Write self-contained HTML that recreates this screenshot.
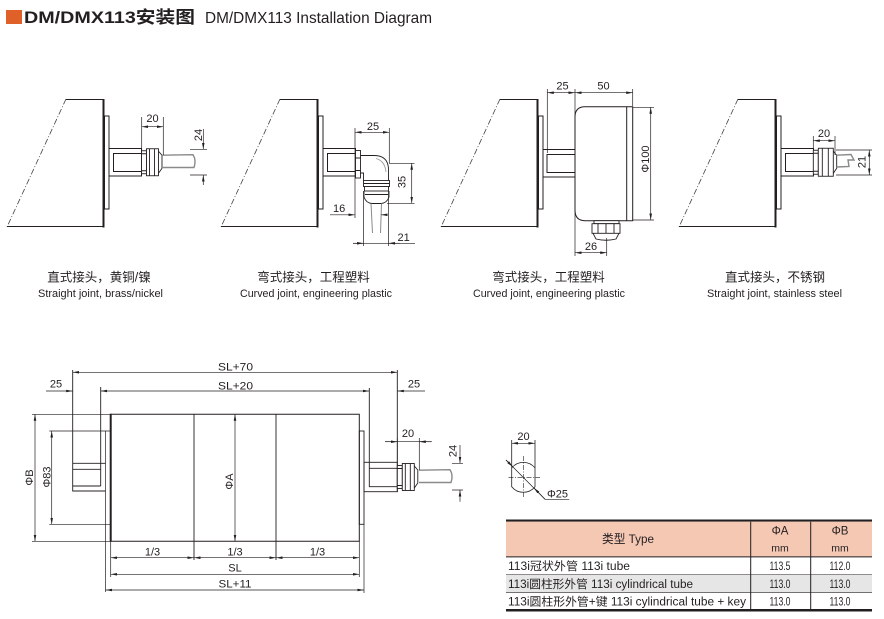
<!DOCTYPE html>
<html><head><meta charset="utf-8"><style>
html,body{margin:0;padding:0;background:#fff;}
svg{display:block;}
text{font-family:"Liberation Sans","Noto Sans CJK SC",sans-serif;fill:#231f20;}
.d{font-size:11px;}
.m{text-anchor:middle;}
</style></head><body>
<svg width="884" height="619" viewBox="0 0 884 619" xmlns="http://www.w3.org/2000/svg">
<defs>
<marker id="a" viewBox="0 0 10 4" refX="10" refY="2" markerWidth="6.5" markerHeight="2.6" markerUnits="userSpaceOnUse" orient="auto-start-reverse"><path d="M0,0L10,2L0,4z" fill="#231f20"/></marker>
<g id="base">
 <line x1="66" y1="99" x2="7" y2="227" stroke="#444" stroke-width="0.8" stroke-dasharray="6,2,1,2"/>
 <path d="M66,99.5H103M7,226.5H103" stroke="#231f20" stroke-width="1" fill="none"/>
 <line x1="103.5" y1="99" x2="103.5" y2="227.5" stroke="#231f20" stroke-width="2"/>
 <rect x="104.5" y="116" width="4.5" height="93" fill="#fff" stroke="#231f20" stroke-width="1"/>
</g>
<g id="shaft" fill="none" stroke="#231f20" stroke-width="1">
 <rect x="109" y="148.5" width="32.5" height="27.5"/>
 <rect x="113.5" y="153.5" width="28" height="18"/>
</g>
<g id="conn" fill="#fff" stroke="#231f20" stroke-width="0.9">
 <rect x="0" y="-11.5" width="5" height="23"/>
 <path d="M0,-8.5H5M0,8.5H5" fill="none"/>
 <rect x="5" y="-13.5" width="12" height="27"/>
 <path d="M8,-13.5V13.5M13,-13.5V13.5" fill="none"/>
 <path d="M17,-11L20.5,-7L20.5,6L17,11" fill="none"/>
</g>
</defs>

<!-- Title -->
<rect x="6" y="10" width="16" height="14" fill="#e0602a"/>
<text x="24" y="23" font-size="17" font-weight="bold" textLength="171" lengthAdjust="spacingAndGlyphs">DM/DMX113安装图</text>
<text x="205" y="23" font-size="16" textLength="227" lengthAdjust="spacingAndGlyphs">DM/DMX113 Installation Diagram</text>

<g stroke="#231f20" fill="none" stroke-width="0.7">
<!-- ===== Diagram 1 ===== -->
<use href="#base"/>
<use href="#shaft"/>
<use href="#conn" transform="translate(141.5,162.25)"/>
<path d="M162,155.2L193,154.7Q196.5,160 194,167.5L162,167.5" stroke="#8a8a8a" stroke-width="1.4"/>
<path d="M141.7,117V150M163.3,117V155"/>
<line x1="141.7" y1="126.7" x2="163.3" y2="126.7" marker-start="url(#a)" marker-end="url(#a)"/>
<path d="M190,149.3H207M190,175H207"/>
<line x1="203.3" y1="129" x2="203.3" y2="149.3" marker-end="url(#a)"/>
<line x1="203.3" y1="185" x2="203.3" y2="175" marker-end="url(#a)"/>

<!-- ===== Diagram 2 ===== -->
<use href="#base" x="214"/>
<use href="#shaft" x="214"/>
<g stroke-width="0.9">
<rect x="355.5" y="150.5" width="5" height="27.5" fill="#fff"/>
<path d="M355.5,158H360.5M355.5,170.5H360.5"/>
<path d="M360.5,155.5H374Q388.5,155.5 388.5,170V180.5"/>
<path d="M360.5,173H363.5V180.5"/>
<path d="M376,158.5Q385,161 386,172" stroke="#999"/>
<rect x="363.5" y="180.5" width="26" height="6" fill="#fff"/>
<path d="M363.5,183.5H389.5"/>
<rect x="364.5" y="186.5" width="24" height="4.5" fill="#fff"/>
<path d="M364,191V197Q366,203 372,203.5H381Q387,203 389,197V191"/>
<path d="M365,194.5H388"/>
</g>
<path d="M371,203.5L372.5,233M381.5,203.5L380.5,233" stroke="#8a8a8a" stroke-width="1"/>
<path d="M355,128V218M389.3,128V163"/>
<line x1="355" y1="132.3" x2="389.3" y2="132.3" marker-start="url(#a)" marker-end="url(#a)"/>
<path d="M389,163.3H414.5M387,203.3H414.5"/>
<line x1="411.7" y1="163.3" x2="411.7" y2="203.3" marker-start="url(#a)" marker-end="url(#a)"/>
<line x1="330" y1="214.8" x2="355" y2="214.8" marker-end="url(#a)"/>
<line x1="387" y1="214.8" x2="381" y2="214.8" marker-end="url(#a)"/>
<path d="M363.5,191V246M388.5,191V246"/>
<line x1="415" y1="243.3" x2="353" y2="243.3"/>
<line x1="353" y1="243.3" x2="363.5" y2="243.3" marker-end="url(#a)"/>
<line x1="400" y1="243.3" x2="388.5" y2="243.3" marker-end="url(#a)"/>

<!-- ===== Diagram 3 ===== -->
<use href="#base" x="434"/>
<rect x="543" y="149.5" width="32" height="27.5" stroke-width="1"/>
<rect x="547" y="154.5" width="28" height="18" stroke-width="1"/>
<path d="M632.7,106.7H585Q575,106.7 575,117V210Q575,220.7 585,220.7H632.7Z" fill="#fff" stroke-width="1"/>
<path d="M626.7,106.7V220.7" stroke-width="1"/>
<g stroke-width="0.9">
<rect x="594" y="220.7" width="25" height="3" fill="#fff"/>
<rect x="592" y="223.7" width="28" height="9.6" fill="#fff"/>
<path d="M598,223.7V233.3M606,223.7V233.3M614,223.7V233.3"/>
<path d="M593,233.3L596,239Q606,241.5 616,239L619,233.3"/>
</g>
<path d="M547.3,89V153M575,89V256M632.7,89V106"/>
<line x1="547.3" y1="92.7" x2="575" y2="92.7" marker-start="url(#a)" marker-end="url(#a)"/>
<line x1="575" y1="92.7" x2="632.7" y2="92.7" marker-start="url(#a)" marker-end="url(#a)"/>
<path d="M633,107.3H654M633,220H654"/>
<line x1="650.7" y1="107.3" x2="650.7" y2="220" marker-start="url(#a)" marker-end="url(#a)"/>
<path d="M606.7,238V256"/>
<line x1="575" y1="252.7" x2="606.7" y2="252.7" marker-start="url(#a)" marker-end="url(#a)"/>

<!-- ===== Diagram 4 ===== -->
<use href="#base" x="672"/>
<use href="#shaft" x="672"/>
<g transform="translate(813.3,162.25)" fill="#fff" stroke="#231f20" stroke-width="0.9">
 <rect x="0" y="-12" width="5" height="24"/>
 <path d="M0,-9H5M0,9H5" fill="none"/>
 <rect x="5" y="-14" width="15" height="28"/>
 <path d="M9,-14V14M15,-14V14" fill="none"/>
 <path d="M20,-11L23.4,-7L23.4,6L20,11" fill="none"/>
</g>
<path d="M836.7,155.2L851,154.5L854,160L848,160L849,166.5L836.7,167" stroke="#8a8a8a" stroke-width="1.4"/>
<path d="M813.3,136V149M835,136V155"/>
<line x1="813.3" y1="140.7" x2="835" y2="140.7" marker-start="url(#a)" marker-end="url(#a)"/>
<path d="M836,150H872M836,175H872"/>
<line x1="869.3" y1="150" x2="869.3" y2="175" marker-start="url(#a)" marker-end="url(#a)"/>

<!-- ===== Bottom assembly ===== -->
<!-- tube -->
<path d="M110.7,414.3H359.3V541.3H110.7" stroke-width="1"/>
<line x1="110.7" y1="413.8" x2="110.7" y2="541.8" stroke-width="2"/>
<path d="M194,414.3V560M276,414.3V560" stroke-width="0.9"/>
<rect x="359.3" y="431" width="4.7" height="93.3" stroke-width="0.9"/>
<!-- left flange / shaft -->
<path d="M105.5,431V592"/>
<path d="M49.3,431H110.7M49.3,524.3H110.7"/>
<path d="M72.7,370V491H105.5M72.7,463.3H105.5M72.7,469.3H100.7M72.7,486H100.7M100.7,387V486" stroke-width="0.9"/>
<!-- right shaft -->
<rect x="364" y="462.3" width="33.3" height="29.4" stroke-width="0.9"/>
<path d="M369.3,388V486.7H397.3M369.3,468.3H397.3M397.3,370V491.7" stroke-width="0.9"/>
<use href="#conn" transform="translate(397.3,477)"/>
<path d="M419,470.2L450,469.7Q453.5,475 451,482.5L419,482.5" stroke="#8a8a8a" stroke-width="1.4"/>
<!-- ext lines down -->
<path d="M110.7,541.3V577M359.3,541.3V577M364,524.3V593"/>
<!-- top dims -->
<line x1="72.7" y1="372.3" x2="397.3" y2="372.3" marker-start="url(#a)" marker-end="url(#a)"/>
<line x1="100.7" y1="391" x2="369.3" y2="391" marker-start="url(#a)" marker-end="url(#a)"/>
<line x1="46" y1="391" x2="72.7" y2="391" marker-end="url(#a)"/>
<line x1="425" y1="391" x2="397.3" y2="391" marker-end="url(#a)"/>
<!-- right 20 / 24 -->
<path d="M397.3,438V462M419.3,438V470"/>
<line x1="385" y1="441.7" x2="431.7" y2="441.7"/>
<line x1="385" y1="441.7" x2="397.3" y2="441.7" marker-end="url(#a)"/>
<line x1="431.7" y1="441.7" x2="419.3" y2="441.7" marker-end="url(#a)"/>
<path d="M452,463.3H463M452,490H463"/>
<line x1="460" y1="445" x2="460" y2="463.3" marker-end="url(#a)"/>
<line x1="460" y1="501.7" x2="460" y2="490" marker-end="url(#a)"/>
<!-- left dims -->
<path d="M32,414.3H110.7M32,541.3H110.7"/>
<line x1="35" y1="414.3" x2="35" y2="541.3" marker-start="url(#a)" marker-end="url(#a)"/>
<line x1="51.7" y1="431" x2="51.7" y2="524.3" marker-start="url(#a)" marker-end="url(#a)"/>
<line x1="235" y1="414.3" x2="235" y2="541.3" marker-start="url(#a)" marker-end="url(#a)"/>
<!-- bottom dims -->
<line x1="110.7" y1="557.7" x2="194" y2="557.7" marker-start="url(#a)" marker-end="url(#a)"/>
<line x1="194" y1="557.7" x2="276" y2="557.7" marker-start="url(#a)" marker-end="url(#a)"/>
<line x1="276" y1="557.7" x2="359.3" y2="557.7" marker-start="url(#a)" marker-end="url(#a)"/>
<line x1="110.7" y1="574.3" x2="359.3" y2="574.3" marker-start="url(#a)" marker-end="url(#a)"/>
<line x1="105.5" y1="590" x2="364" y2="590" marker-start="url(#a)" marker-end="url(#a)"/>

<!-- ===== Circle detail ===== -->
<path d="M511.7,440V487M535,440V487" stroke-width="0.8"/>
<path d="M511.7,467.9A15,15 0 0 1 535,467.9M511.7,486.7A15,15 0 0 0 535,486.7" stroke-width="0.8"/>
<path d="M508.5,477.3H540M523.3,456V497" stroke-width="0.6" stroke-dasharray="5,1.5,1,1.5"/>
<line x1="511.7" y1="443.3" x2="535" y2="443.3" marker-start="url(#a)" marker-end="url(#a)"/>
<path d="M506,460L545,499.3H569.3"/>
<line x1="506" y1="460" x2="512.7" y2="466.7" marker-end="url(#a)"/>
<line x1="545" y1="499.3" x2="533.9" y2="487.9" marker-end="url(#a)"/>
</g>

<!-- Dimension texts top -->
<text class="d m" x="152.5" y="122">20</text>
<text class="d m" transform="rotate(-90 202 135)" x="202" y="135">24</text>
<text class="d m" x="373" y="130">25</text>
<text class="d m" transform="rotate(-90 405.5 182)" x="405.5" y="182">35</text>
<text class="d" x="333" y="212">16</text>
<text class="d" x="397.5" y="241">21</text>
<text class="d m" x="562.5" y="89.5">25</text>
<text class="d m" x="603.5" y="89.5">50</text>
<text class="d m" transform="rotate(-90 649 159)" x="649" y="159">Φ100</text>
<text class="d m" x="591" y="250">26</text>
<text class="d m" x="824" y="137">20</text>
<text class="d m" transform="rotate(-90 865.5 162)" x="865.5" y="162">21</text>

<!-- Labels -->
<g font-size="12.5" text-anchor="middle">
<text x="99" y="281.5">直式接头，黄铜/镍</text>
<text x="313.5" y="281.5">弯式接头，工程塑料</text>
<text x="548.5" y="281.5">弯式接头，工程塑料</text>
<text x="775" y="281.5">直式接头，不锈钢</text>
</g>
<g font-size="11">
<text x="38" y="297" textLength="125" lengthAdjust="spacingAndGlyphs">Straight joint, brass/nickel</text>
<text x="240" y="297" textLength="152" lengthAdjust="spacingAndGlyphs">Curved joint, engineering plastic</text>
<text x="473" y="297" textLength="152" lengthAdjust="spacingAndGlyphs">Curved joint, engineering plastic</text>
<text x="707" y="297" textLength="135" lengthAdjust="spacingAndGlyphs">Straight joint, stainless steel</text>
</g>

<!-- Bottom dim texts -->
<text class="d m" x="235.5" y="370.5" textLength="35" lengthAdjust="spacingAndGlyphs">SL+70</text>
<text class="d m" x="235.5" y="389.5" textLength="35" lengthAdjust="spacingAndGlyphs">SL+20</text>
<text class="d m" x="56" y="387.5">25</text>
<text class="d m" x="414" y="387.5">25</text>
<text class="d m" x="408" y="437">20</text>
<text class="d m" transform="rotate(-90 456.5 451)" x="456.5" y="451">24</text>
<text class="d m" transform="rotate(-90 33 477.5)" x="33" y="477.5">ΦB</text>
<text class="d m" transform="rotate(-90 50.5 477)" x="50.5" y="477">Φ83</text>
<text class="d m" transform="rotate(-90 233 481.5)" x="233" y="481.5">ΦA</text>
<text class="d m" x="152.5" y="555.5">1/3</text>
<text class="d m" x="235" y="555.5">1/3</text>
<text class="d m" x="317.5" y="555.5">1/3</text>
<text class="d m" x="235" y="571.5">SL</text>
<text class="d m" x="235" y="587.5" textLength="33" lengthAdjust="spacingAndGlyphs">SL+11</text>
<text class="d m" x="523.5" y="440">20</text>
<text class="d" x="547" y="497.5">Φ25</text>

<!-- Table -->
<rect x="506" y="519.5" width="366" height="2.2" fill="#231f20"/>
<rect x="506" y="521.7" width="366" height="35" fill="#f5c8b4"/>
<rect x="506" y="574.8" width="366" height="17.5" fill="#e6e6e6"/>
<g stroke="#231f20" fill="none">
<path d="M506,556.9H872" stroke-width="1"/>
<path d="M506,574.5H872M506,592.4H872" stroke-width="0.6"/>
<path d="M750.7,521.7V609M810.7,521.7V609" stroke-width="1"/>
</g>
<rect x="506" y="609" width="366" height="2.5" fill="#231f20"/>
<g font-size="11.5">
<text x="628" y="543" text-anchor="middle" font-size="12" textLength="52" lengthAdjust="spacingAndGlyphs">类型 Type</text>
<text x="780" y="534.5" text-anchor="middle">ΦA</text>
<text x="780" y="551.5" text-anchor="middle" font-size="10.5">mm</text>
<text x="840" y="534.5" text-anchor="middle">ΦB</text>
<text x="840" y="551.5" text-anchor="middle" font-size="10.5">mm</text>
<text x="508" y="570" textLength="122" lengthAdjust="spacingAndGlyphs">113i冠状外管 113i tube</text>
<text x="508" y="588" textLength="185" lengthAdjust="spacingAndGlyphs">113i圆柱形外管 113i cylindrical tube</text>
<text x="508" y="605.5" textLength="238" lengthAdjust="spacingAndGlyphs">113i圆柱形外管+键 113i cylindrical tube + key</text>
<text x="780" y="570" text-anchor="middle" textLength="21" lengthAdjust="spacingAndGlyphs">113.5</text>
<text x="840" y="570" text-anchor="middle" textLength="21" lengthAdjust="spacingAndGlyphs">112.0</text>
<text x="780" y="588" text-anchor="middle" textLength="21" lengthAdjust="spacingAndGlyphs">113.0</text>
<text x="840" y="588" text-anchor="middle" textLength="21" lengthAdjust="spacingAndGlyphs">113.0</text>
<text x="780" y="605.5" text-anchor="middle" textLength="21" lengthAdjust="spacingAndGlyphs">113.0</text>
<text x="840" y="605.5" text-anchor="middle" textLength="21" lengthAdjust="spacingAndGlyphs">113.0</text>
</g>
</svg>
</body></html>
